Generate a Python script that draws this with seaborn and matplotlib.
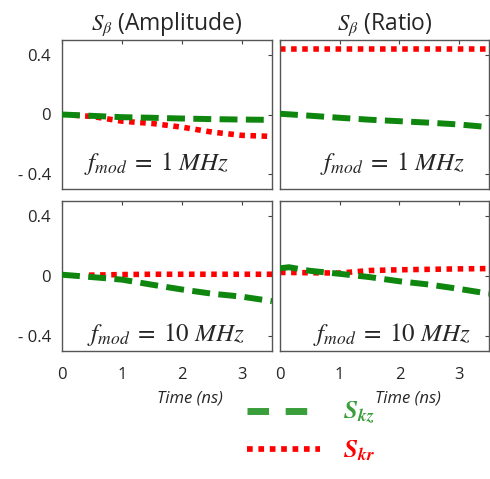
import numpy as np
import pandas as pd
import seaborn as sns
import matplotlib
matplotlib.use("Agg")
import matplotlib.pyplot as plt
from matplotlib.lines import Line2D

# ---------------- data ----------------
t_tl_kz = [0, 0.5, 1, 1.5, 2, 2.5, 3, 3.5]
tl_kz = [0.0, -0.009, -0.018, -0.022, -0.027, -0.031, -0.034, -0.036]
t_tl_kr = [0.2, 0.5, 1, 1.5, 2, 2.5, 3, 3.5]
tl_kr = [-0.005, -0.013, -0.045, -0.06, -0.085, -0.118, -0.14, -0.147]

t_tr = [0, 0.5, 1, 1.5, 2, 2.5, 3, 3.5]
tr_kz = [0.005, -0.008, -0.022, -0.035, -0.045, -0.055, -0.067, -0.085]
tr_kr = [0.44, 0.44, 0.44, 0.44, 0.44, 0.44, 0.44, 0.44]

t_bl_kz = [0, 0.5, 1, 1.5, 2, 2.5, 3, 3.5]
bl_kz = [0.007, -0.009, -0.026, -0.06, -0.092, -0.12, -0.14, -0.17]
t_bl_kr = [0.45, 1, 1.5, 2, 2.5, 3, 3.5]
bl_kr = [0.004, 0.008, 0.01, 0.01, 0.01, 0.01, 0.01]

t_br = [0, 0.15, 0.5, 1, 1.5, 2, 2.5, 3, 3.5]
br_kz = [0.05, 0.057, 0.033, 0.013, -0.009, -0.037, -0.059, -0.088, -0.12]
br_kr = [0.022, 0.022, 0.02, 0.018, 0.035, 0.04, 0.043, 0.046, 0.048]

col_titles = [r"$S_\beta$ (Amplitude)", r"$S_\beta$ (Ratio)"]
freq_labels = [r"$f_{mod}\;=\;1\ MHz$", r"$f_{mod}\;=\;10\ MHz$"]
yticks = [-0.4, 0, 0.4]
ytick_labels = ["- 0.4", "0", "0.4"]
xticks = [0, 1, 2, 3]
xlabel = "Time (ns)"
legend_labels = [r"$\mathbfit{S}_{\mathbfit{kz}}$", r"$\mathbfit{S}_{\mathbfit{kr}}$"]

# ---------------- style ----------------
sns.set_style("white")
plt.rcParams["font.family"] = ["Open Sans", "DejaVu Sans"]
plt.rcParams["mathtext.fontset"] = "stix"

GREEN = "#0f870f"
GREEN_LEG = "#3a9e3a"
RED = "#ff0000"

W, H = 490, 479
fig = plt.figure(figsize=(W / 100, H / 100), dpi=100)

def fbox(x0, x1, ytop, ybot):
    return [x0 / W, 1 - ybot / H, (x1 - x0) / W, (ybot - ytop) / H]

axes = {
    "tl": fig.add_axes(fbox(62, 272, 40, 189)),
    "tr": fig.add_axes(fbox(280, 489, 40, 189)),
    "bl": fig.add_axes(fbox(62, 272, 201, 350.5)),
    "br": fig.add_axes(fbox(280, 489, 201, 350.5)),
}

panels = {
    "tl": (t_tl_kz, tl_kz, t_tl_kr, tl_kr),
    "tr": (t_tr, tr_kz, t_tr, tr_kr),
    "bl": (t_bl_kz, bl_kz, t_bl_kr, bl_kr),
    "br": (t_br, br_kz, t_br, br_kr),
}

for key, ax in axes.items():
    tkz, kz, tkr, kr = panels[key]
    dkz = pd.DataFrame({"t": tkz, "v": kz})
    dkr = pd.DataFrame({"t": tkr, "v": kr})
    sns.lineplot(data=dkr, x="t", y="v", ax=ax, color=RED, lw=4.0,
                 zorder=2)
    ax.lines[-1].set_dashes((1, 1))
    ax.lines[-1].set_dash_capstyle("butt")
    sns.lineplot(data=dkz, x="t", y="v", ax=ax, color=GREEN, lw=4.3,
                 zorder=3)
    ax.lines[-1].set_dashes((3.0, 1.4))
    ax.lines[-1].set_dash_capstyle("butt")
    ax.set_xlim(0, 3.5)
    ax.set_ylim(-0.5, 0.5)
    ax.set_yticks(yticks)
    ax.set_xticks(xticks)
    ax.tick_params(direction="in", top=True, right=True, length=3,
                   width=0.8, color="#444444", labelsize=12)
    ax.tick_params(axis="y", pad=8)
    ax.tick_params(axis="x", pad=12)
    for s in ax.spines.values():
        s.set_color("#555555")
        s.set_linewidth(1.0)
    ax.set_xlabel("")
    ax.set_ylabel("")
    if key in ("tl", "bl"):
        ax.set_yticklabels(ytick_labels)
    else:
        ax.set_yticklabels([])
    if key in ("tl", "tr"):
        ax.set_xticklabels([])
    else:
        ax.set_xticklabels([str(v) for v in xticks])
        ax.set_xlabel(xlabel, fontstyle="italic", fontsize=12)
        ax.xaxis.set_label_coords(0.61, -0.265)

axes["tl"].set_title(col_titles[0], fontsize=16.5, pad=7)
axes["tr"].set_title(col_titles[1], fontsize=16.5, pad=7)

text_pos = {"tl": (0.45, 0.17), "tr": (0.54, 0.17),
            "bl": (0.495, 0.11), "br": (0.535, 0.11)}
for key, (x, y) in text_pos.items():
    lab = freq_labels[0] if key in ("tl", "tr") else freq_labels[1]
    axes[key].text(x, y, lab, transform=axes[key].transAxes, ha="center",
                   va="center", fontsize=18)

# legend
h_kz = Line2D([], [], color=GREEN_LEG, lw=5.0, dashes=(3.1, 2.4),
              dash_capstyle="butt")
h_kr = Line2D([], [], color=RED, lw=4.1, dashes=(1, 1),
              dash_capstyle="butt")
leg = fig.legend([h_kz, h_kr], legend_labels, loc="upper left",
                 bbox_to_anchor=(247 / W, 1 - 400 / H), frameon=False,
                 fontsize=18, handlelength=2.9, handletextpad=0.95,
                 labelspacing=0.5, borderpad=0, borderaxespad=0)
for txt, c in zip(leg.get_texts(), [GREEN_LEG, RED]):
    txt.set_color(c)

fig.savefig("out.png", dpi=100)
